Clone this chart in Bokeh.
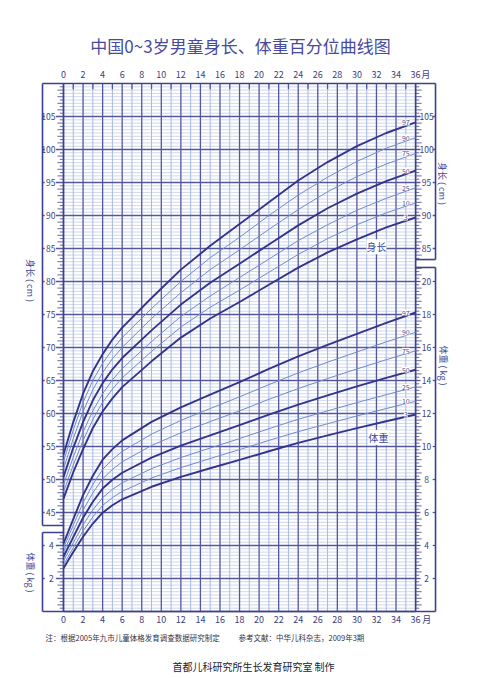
import numpy as np
from bokeh.plotting import figure
from bokeh.models import Range1d, Label
from bokeh.embed import file_html
from bokeh.resources import INLINE
from bokeh.core.properties import value

# ---------------- data ----------------
ages = [0, 1, 2, 3, 4, 5, 6, 9, 12, 15, 18, 21, 24, 27, 30, 33, 36]
percentiles = ["3", "10", "25", "50", "75", "90", "97"]

len_p3 = [47.1, 51.1, 54.6, 57.8, 60.3, 62.3, 64.0, 67.9, 71.5, 74.4, 76.9, 79.5, 82.1, 84.4, 86.4, 88.2, 89.7]
len_p10 = [48.1, 52.2, 55.9, 59.1, 61.7, 63.7, 65.4, 69.4, 73.1, 76.1, 78.7, 81.4, 84.1, 86.5, 88.6, 90.4, 91.9]
len_p25 = [49.2, 53.4, 57.2, 60.4, 63.0, 65.1, 66.8, 70.9, 74.7, 77.8, 80.6, 83.4, 86.2, 88.6, 90.8, 92.6, 94.2]
len_p50 = [50.4, 54.8, 58.7, 62.0, 64.6, 66.7, 68.4, 72.6, 76.5, 79.8, 82.7, 85.6, 88.5, 91.1, 93.3, 95.2, 96.8]
len_p75 = [51.6, 56.2, 60.3, 63.6, 66.2, 68.3, 70.0, 74.4, 78.3, 81.8, 84.8, 87.9, 90.9, 93.6, 95.9, 97.8, 99.4]
len_p90 = [52.7, 57.5, 61.7, 65.0, 67.6, 69.7, 71.5, 75.9, 80.0, 83.6, 86.7, 90.0, 93.1, 95.8, 98.2, 100.2, 101.8]
len_p97 = [53.8, 58.7, 63.0, 66.4, 69.0, 71.2, 73.0, 77.5, 81.8, 85.4, 88.7, 92.0, 95.3, 98.1, 100.5, 102.5, 104.1]

wt_p3 = [2.62, 3.60, 4.53, 5.33, 5.99, 6.44, 6.80, 7.56, 8.16, 8.68, 9.19, 9.71, 10.22, 10.67, 11.11, 11.53, 11.94]
wt_p10 = [2.83, 3.86, 4.88, 5.73, 6.43, 6.90, 7.28, 8.09, 8.72, 9.27, 9.81, 10.37, 10.90, 11.38, 11.85, 12.30, 12.74]
wt_p25 = [3.06, 4.16, 5.25, 6.16, 6.90, 7.40, 7.80, 8.66, 9.33, 9.91, 10.48, 11.08, 11.65, 12.16, 12.66, 13.14, 13.61]
wt_p50 = [3.32, 4.51, 5.68, 6.65, 7.45, 7.98, 8.41, 9.33, 10.05, 10.68, 11.29, 11.93, 12.54, 13.10, 13.64, 14.16, 14.65]
wt_p75 = [3.59, 4.88, 6.15, 7.19, 8.04, 8.61, 9.07, 10.06, 10.83, 11.51, 12.16, 12.86, 13.51, 14.12, 14.70, 15.26, 15.80]
wt_p90 = [3.85, 5.23, 6.59, 7.70, 8.61, 9.21, 9.70, 10.75, 11.58, 12.30, 13.01, 13.75, 14.46, 15.11, 15.73, 16.34, 16.92]
wt_p97 = [4.12, 5.60, 7.05, 8.23, 9.20, 9.84, 10.37, 11.49, 12.37, 13.15, 13.90, 14.70, 15.46, 16.16, 16.83, 17.49, 18.12]

month_ticks = list(range(0, 37, 2))
len_ticks_left = [45, 50, 55, 60, 65, 70, 75, 80, 85, 90, 95, 100, 105]
len_ticks_right = [85, 90, 95, 100, 105]
wt_ticks_left = [2, 4]
wt_ticks_right = [2, 4, 6, 8, 10, 12, 14, 16, 18, 20]

title_text = "中国0~3岁男童身长、体重百分位曲线图"
note1 = "注：根据2005年九市儿童体格发育调查数据研究制定"
note2 = "参考文献：中华儿科杂志，2009年3期"
credit = "首都儿科研究所生长发育研究室 制作"

# ---------------- styling ----------------
CJK = "Noto Sans CJK SC"
DARK = "#34358a"
LIGHT = "#6f8ccb"
GRID_DARK = "#54579c"
GRID_LIGHT = "#a9b8de"
GRID_MINOR = "#c4cde8"
FRAME = "#3d408c"
TXT = "#3d4181"

PXM = 9.78   # pixels per month
PXW = 16.5   # pixels per kg
X0, Y0 = 63.0, 611.0  # page position of month 0 / 0 kg
W, H = 498, 676


def to_w(L):
    # length (cm) -> weight-axis equivalent (kg)
    return 0.4 * L - 12.0


XMIN, XMAX = (0 - X0) / PXM, (W - X0) / PXM
YMIN, YMAX = (Y0 - H) / PXW, Y0 / PXW
XL, XR = -2.147, 38.04  # outer box edges
YT = 32.0

p = figure(width=W, height=H, x_range=Range1d(XMIN, XMAX), y_range=Range1d(YMIN, YMAX),
           output_backend="svg", toolbar_location=None, x_axis_type=None, y_axis_type=None,
           min_border=0, outline_line_color=None, background_fill_color="white",
           border_fill_color="white")
p.extra_y_ranges = {"len": Range1d(start=(YMIN + 12) / 0.4, end=(YMAX + 12) / 0.4)}

# ---------------- grid ----------------
minor_w = np.round(np.arange(0, 32.01, 0.2), 2)
minor_w = [w for w in minor_w if abs(w / 2 - round(w / 2)) > 1e-6]
p.segment(x0=0, x1=36, y0=minor_w, y1=minor_w, line_color=GRID_MINOR, line_width=0.8)
odd_m = list(range(1, 36, 2))
p.segment(x0=odd_m, x1=odd_m, y0=0, y1=YT, line_color=GRID_LIGHT, line_width=1.0)
major_w = list(range(0, 32, 2))
p.segment(x0=0, x1=36, y0=major_w, y1=major_w, line_color=GRID_DARK, line_width=1.3)
even_m = list(range(0, 37, 2))
p.segment(x0=even_m, x1=even_m, y0=0, y1=YT, line_color=GRID_DARK, line_width=1.3)
p.segment(x0=odd_m, x1=odd_m, y0=YT, y1=YT - 0.35, line_color=GRID_DARK, line_width=1.3)

# ---------------- side panel ticks ----------------
all_w = np.round(np.arange(0, 32.01, 0.2), 2)
left_w = [w for w in all_w if (5.21 < w < 32) or (0 < w < 4.79)]
right_w = [w for w in all_w if (21.33 < w < 32) or (0 < w < 20.85)]


def tick_len(w):
    i = int(round(w / 0.2))
    if i % 10 == 0:
        return 0
    return 0.62 if i % 2 == 0 else 0.38


lw_ = [w for w in left_w if tick_len(w) > 0]
p.segment(x0=[-tick_len(w) for w in lw_], x1=0, y0=lw_, y1=lw_, line_color=GRID_DARK, line_width=0.9)
rw_ = [w for w in right_w if tick_len(w) > 0]
p.segment(x0=36, x1=[36 + tick_len(w) for w in rw_], y0=rw_, y1=rw_, line_color=GRID_DARK, line_width=0.9)

lmaj = [to_w(L) for L in len_ticks_left] + wt_ticks_left
p.segment(x0=-0.78, x1=0, y0=lmaj, y1=lmaj, line_color=GRID_DARK, line_width=1.3)
p.segment(x0=XL, x1=XL + 0.22, y0=lmaj, y1=lmaj, line_color=GRID_DARK, line_width=1.3)
rmaj = [to_w(L) for L in len_ticks_right] + wt_ticks_right
p.segment(x0=36, x1=36.5, y0=rmaj, y1=rmaj, line_color=GRID_DARK, line_width=1.3)
p.segment(x0=37.75, x1=XR, y0=rmaj, y1=rmaj, line_color=GRID_DARK, line_width=1.3)

tk = dict(text_font=value(CJK), text_font_size="8.5px", text_color=TXT, text_baseline="middle")
p.text(x=-0.82, y=len_ticks_left, text=[str(v) for v in len_ticks_left], y_range_name="len",
       text_align="right", **tk)
p.text(x=-1.0, y=wt_ticks_left, text=[str(v) for v in wt_ticks_left], text_align="right", **tk)
p.text(x=37.12, y=len_ticks_right, text=[str(v) for v in len_ticks_right], y_range_name="len",
       text_align="center", **tk)
p.text(x=37.12, y=wt_ticks_right, text=[str(v) for v in wt_ticks_right], text_align="center", **tk)

# ---------------- frame / boxes ----------------
fx0 = [XL, XL, XL, XL, XL, 0, XL, 36, XR, XR, 36]
fx1 = [XR, XR, XL, 0, XL, 0, 0, XR, XR, XR, XR]
fy0 = [YT, 0, YT, 5.21, 4.79, 0, 4.79, 21.33, YT, 20.85, 20.85]
fy1 = [YT, 0, 5.21, 5.21, 0, YT, 4.79, 21.33, 21.33, 0, 20.85]
p.segment(x0=fx0, x1=fx1, y0=fy0, y1=fy1, line_color=FRAME, line_width=1.6)
p.segment(x0=[36], x1=[36], y0=[0], y1=[YT], line_color=FRAME, line_width=1.5)

# ---------------- curves ----------------
len_series = [len_p3, len_p10, len_p25, len_p50, len_p75, len_p90, len_p97]
wt_series = [wt_p3, wt_p10, wt_p25, wt_p50, wt_p75, wt_p90, wt_p97]
for order in (False, True):
    for pc, ls, ws in zip(percentiles, len_series, wt_series):
        dark = pc in ("3", "50", "97")
        if dark != order:
            continue
        col = DARK if dark else LIGHT
        wdt = 1.9 if dark else 1.0
        p.line(ages, ls, y_range_name="len", line_color=col, line_width=wdt, line_join="round")
        p.line(ages, ws, line_color=col, line_width=wdt, line_join="round")

for pc, ls, ws in zip(percentiles, len_series, wt_series):
    p.add_layout(Label(x=35, y=ls[-1], y_range_name="len", text=pc, text_font=CJK, text_font_size="7px",
                       text_color="#4a4e8a", text_align="center", text_baseline="middle",
                       background_fill_color="white"))
    p.add_layout(Label(x=35, y=ws[-1], text=pc, text_font=CJK, text_font_size="7px",
                       text_color="#4a4e8a", text_align="center", text_baseline="middle",
                       background_fill_color="white"))

p.add_layout(Label(x=32.0, y=22.1, text="身长", text_font=CJK, text_font_size="10px", text_color="#3a4aa0",
                   text_align="center", text_baseline="middle", background_fill_color="white"))
p.add_layout(Label(x=32.2, y=10.55, text="体重", text_font=CJK, text_font_size="10px", text_color="#3a4aa0",
                   text_align="center", text_baseline="middle", background_fill_color="white"))

# ---------------- month labels (top & bottom) ----------------
mk = dict(text_font=value(CJK), text_font_size="9px", text_color=TXT, text_align="center",
          text_baseline="middle")
p.text(x=month_ticks, y=(Y0 - 74) / PXW, text=[str(m) for m in month_ticks], **mk)
p.text(x=month_ticks, y=(Y0 - 619) / PXW, text=[str(m) for m in month_ticks], **mk)
p.text(x=[37.05, 37.15], y=[(Y0 - 74) / PXW, (Y0 - 619) / PXW], text=["月", "月"], **mk)

# ---------------- outside texts ----------------
p.text(x=[18.1], y=[(Y0 - 45) / PXW], text=[title_text], text_font=value(CJK), text_font_size="17px",
       text_color="#464b9c", text_align="center", text_baseline="middle")
side = dict(angle=-np.pi / 2, text_font=value(CJK), text_font_size="9px", text_color="#3d4a9c",
            text_align="center", text_baseline="middle")
p.text(x=[(30 - X0) / PXM, (30 - X0) / PXM], y=[(Y0 - 280) / PXW, (Y0 - 572) / PXW],
       text=["身长 ( cm )", "体重 ( kg )"], **side)
p.text(x=[(442 - X0) / PXM, (443 - X0) / PXM], y=[(Y0 - 183) / PXW, (Y0 - 365) / PXW],
       text=["身长 ( cm )", "体重 ( kg )"], **side)
p.text(x=[(45 - X0) / PXM, (238 - X0) / PXM], y=[(Y0 - 637) / PXW] * 2, text=[note1, note2],
       text_font=value(CJK), text_font_size="7.5px", text_color="#333344", text_align="left",
       text_baseline="middle")
p.text(x=[(253 - X0) / PXM], y=[(Y0 - 666) / PXW], text=[credit], text_font=value(CJK),
       text_font_size="10px", text_color="#222233", text_align="center", text_baseline="middle")

open("out.html", "w").write(file_html(p, INLINE))
